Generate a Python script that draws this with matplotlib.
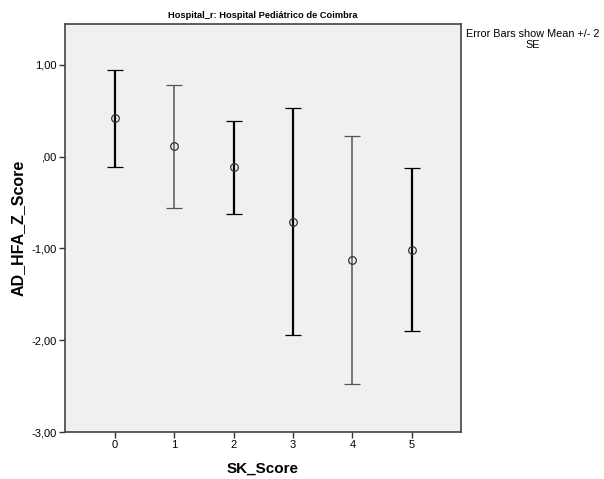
import matplotlib
matplotlib.use('Agg')
import matplotlib.pyplot as plt
from matplotlib.ticker import FuncFormatter

plt.rcParams['font.family'] = ['Liberation Sans', 'DejaVu Sans']

# SK_Score categories, mean and mean +/- 2 SE
sk_score = [0, 1, 2, 3, 4, 5]
mean_z = [0.42, 0.112, -0.116, -0.71, -1.123, -1.014]
upper = [0.95, 0.786, 0.391, 0.529, 0.228, -0.127]
lower = [-0.109, -0.558, -0.62, -1.946, -2.475, -1.899]
bar_colors = ['#000000', '#555555', '#000000', '#000000', '#555555', '#000000']
bar_widths = [1.6, 1.1, 1.6, 1.6, 1.1, 1.6]

fig = plt.figure(figsize=(6.04, 4.79), dpi=100)
ax = fig.add_axes([65/604, 47/479, 396/604, 408/479])
ax.set_facecolor('#F0F0F0')

for i in range(len(sk_score)):
    ax.errorbar(sk_score[i], mean_z[i],
                yerr=[[mean_z[i] - lower[i]], [upper[i] - mean_z[i]]],
                fmt='o', mfc='none', mec='#333333', ms=5.5, mew=0.9,
                ecolor=bar_colors[i], elinewidth=bar_widths[i],
                capsize=5.5, capthick=bar_widths[i])

ax.set_xlim(-0.84, 5.83)
ax.set_ylim(-3, 1.446)
ax.set_xticks(sk_score)
ax.set_yticks([1, 0, -1, -2, -3])

def fmt(v, pos):
    s = '%.2f' % v
    s = s.replace('.', ',')
    if s.startswith('0,'):
        s = s[1:]
    if s == '-0,00':
        s = ',00'
    return s
ax.yaxis.set_major_formatter(FuncFormatter(fmt))

ax.tick_params(axis='both', labelsize=8, length=4, width=1, color='#333333', pad=2)
for sp in ax.spines.values():
    sp.set_color('#444444')
    sp.set_linewidth(1.2)

ax.set_xlabel('SK_Score', fontsize=11, fontweight='bold', labelpad=8)
ax.set_ylabel('AD_HFA_Z_Score', fontsize=11.5, fontweight='bold', labelpad=4)
ax.set_title('Hospital_r: Hospital Pediátrico de Coimbra', fontsize=6.7,
             fontweight='bold', pad=4)

# note at right, two lines like SPSS
fig.text(533/604, 1 - 34/479, 'Error Bars show Mean +/- 2', fontsize=7.8,
         ha='center', va='center')
fig.text(533/604, 1 - 45/479, 'SE', fontsize=7.8, ha='center', va='center')

fig.savefig('out.png', dpi=100)
